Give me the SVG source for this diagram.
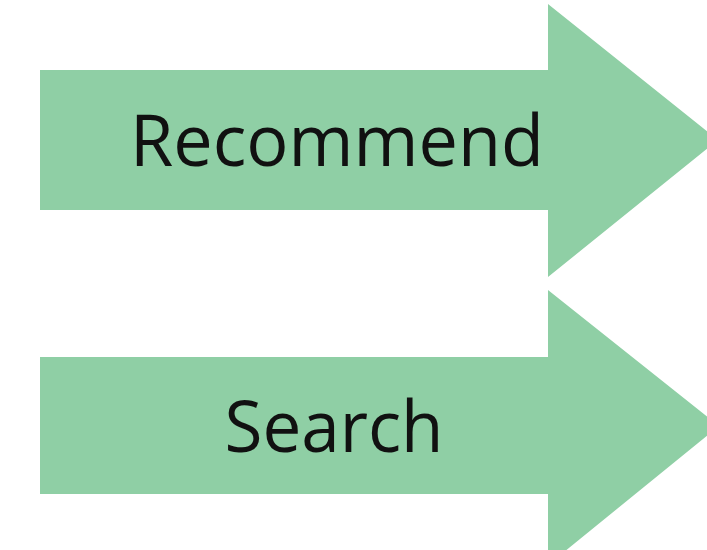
<svg xmlns="http://www.w3.org/2000/svg" width="707" height="550" viewBox="0 0 707 550">
  <style>
    .arrow { fill: #8fcfa5; }
    .label { font-family: "Open Sans", "Noto Sans", sans-serif; font-size: 72px; fill: #111111; text-anchor: middle; }
  </style>
  <rect width="707" height="550" fill="#ffffff"/>
  <g id="recommend">
    <polygon class="arrow" points="40,70 548,70 548,4 718,140 548,277 548,210 40,210"/>
    <text class="label" x="337" y="166" textLength="414" lengthAdjust="spacingAndGlyphs">Recommend</text>
  </g>
  <g id="search">
    <polygon class="arrow" points="40,357 548,357 548,290 719,426 548,565 548,494 40,494"/>
    <text class="label" x="334" y="452" textLength="219" lengthAdjust="spacingAndGlyphs">Search</text>
  </g>
  <g id="connectors"></g>
</svg>
